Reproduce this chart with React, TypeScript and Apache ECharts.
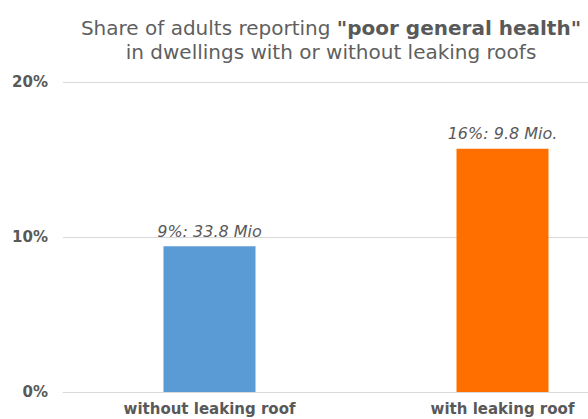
import React, { useEffect, useRef } from "react";
import * as echarts from "echarts";

const categories = ["without leaking roof", "with leaking roof"];
const shares = [9.4, 15.7];
const valueLabels = ["9%: 33.8 Mio", "16%: 9.8 Mio."];
const barColors = ["#5B9BD5", "#FF6F00"];
const yTicks = [0, 10, 20];

export default function App() {
  const ref = useRef<HTMLDivElement>(null);
  useEffect(() => {
    if (!ref.current) return;
    const chart = echarts.init(ref.current, null, { renderer: "svg" });
    chart.setOption({
      animation: false,
      backgroundColor: "#ffffff",
      title: {
        text: 'Share of adults reporting {b|"poor general health"}\n{n|in dwellings with or without leaking roofs}',
        left: "center",
        top: 11,
        textStyle: {
          fontFamily: "DejaVu Sans",
          fontSize: 20,
          fontWeight: "normal",
          color: "#5F5F5F",
          lineHeight: 24,
          rich: {
            b: { fontFamily: "DejaVu Sans", fontSize: 20, fontWeight: "bold", color: "#595959", lineHeight: 24 },
            n: { fontFamily: "DejaVu Sans", fontSize: 20, fontWeight: "normal", color: "#5F5F5F", lineHeight: 24 },
          },
        },
      },
      grid: { left: 63, right: 13, top: 82, bottom: 27, containLabel: false },
      xAxis: {
        type: "category",
        data: categories,
        axisLine: { show: true, lineStyle: { color: "#D9D9D9", width: 1 } },
        axisTick: { show: false },
        axisLabel: {
          fontFamily: "DejaVu Sans",
          fontSize: 15,
          fontWeight: "bold",
          color: "#595959",
          margin: 9,
        },
      },
      yAxis: {
        type: "value",
        min: yTicks[0],
        max: yTicks[yTicks.length - 1],
        interval: 10,
        axisLine: { show: false },
        axisTick: { show: false },
        splitLine: { lineStyle: { color: "#D9D9D9", width: 1 } },
        axisLabel: {
          formatter: "{value}%",
          fontFamily: "DejaVu Sans",
          fontSize: 15,
          fontWeight: "bold",
          color: "#595959",
          margin: 15,
        },
      },
      series: [
        {
          type: "bar",
          barWidth: 92,
          data: shares.map((v, i) => ({
            value: v,
            itemStyle: { color: barColors[i] },
            label: {
              show: true,
              position: "top",
              distance: 7,
              formatter: valueLabels[i],
              fontFamily: "DejaVu Sans",
              fontSize: 16,
              fontStyle: "italic",
              color: "#595959",
            },
          })),
        },
      ],
    });
    return () => chart.dispose();
  }, []);
  return (
    <div style={{ position: "fixed", left: 0, top: 0, width: 588, height: 419, overflow: "hidden", background: "#fff" }}>
      <div ref={ref} style={{ width: 662, height: 419 }} />
    </div>
  );
}
